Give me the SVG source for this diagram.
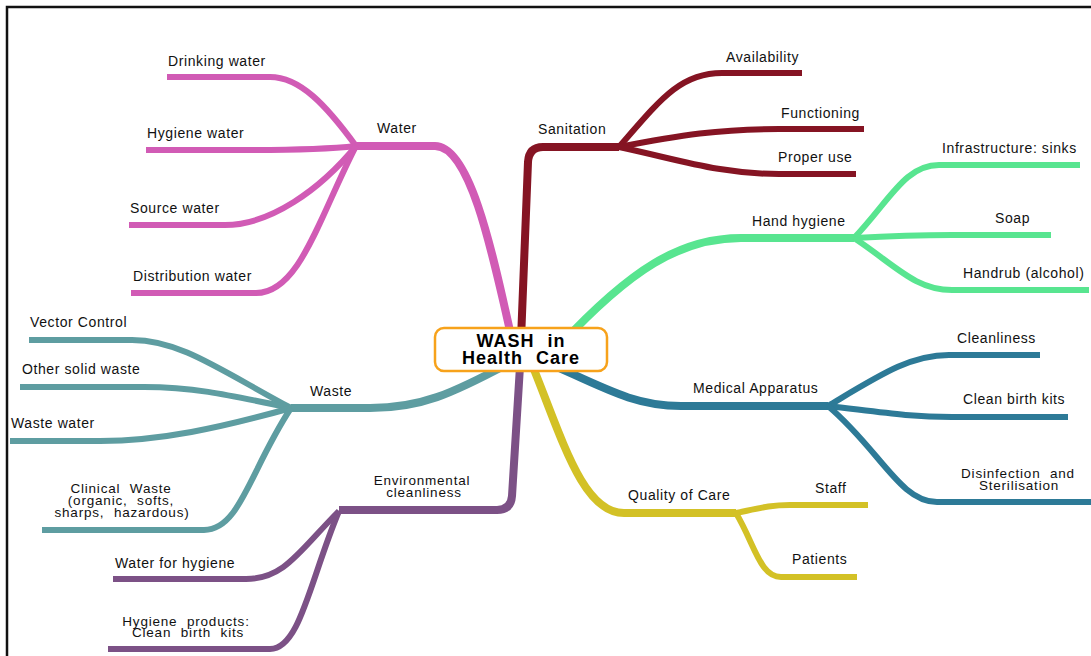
<svg xmlns="http://www.w3.org/2000/svg" width="1091" height="656" viewBox="0 0 1091 656">
<style>
.b{fill:none;stroke-linecap:butt;stroke-linejoin:round}
.m{stroke-width:8}
.c{stroke-width:6}
.water{stroke:#D15BB5}
.san{stroke:#851423}
.hand{stroke:#58E590}
.med{stroke:#2D7A97}
.qual{stroke:#D3C126}
.waste{stroke:#5E9DA1}
.env{stroke:#7C5186}
text{font-family:"Liberation Sans",Arial,Helvetica,sans-serif;font-size:14px;fill:#111;letter-spacing:0.6px}
.ml{word-spacing:5px;font-size:13.5px;letter-spacing:0.8px}
.center{font-weight:bold;font-size:18px;letter-spacing:1px;word-spacing:7px;fill:#000}
</style>
<rect x="0" y="0" width="1091" height="656" fill="#fff"/>
<path d="M7,656 L7,7 L1091,7" fill="none" stroke="#111" stroke-width="2.5"/>
<g id="connectors">
<path class="b m water" d="M512,340 C492,250 470,146 435,146 L356,146"/>
<path class="b c water" d="M356,146 C326,105 300,77 270,77 L167,77"/>
<path class="b c water" d="M356,146 C320,150 280,150 249,150 L146,150"/>
<path class="b c water" d="M356,146 C320,190 270,225 225,225 L129,225"/>
<path class="b c water" d="M356,146 C320,215 300,293 256,293 L131,293"/>
<path class="b m san" d="M521,340 L528,162 Q529,147 543,147 L619,147"/>
<path class="b c san" d="M619,147 C660,100 680,73 722,73 L802,73"/>
<path class="b c san" d="M619,147 C680,135 720,129 779,129 L864,129"/>
<path class="b c san" d="M619,147 C680,160 720,174 779,174 L856,174"/>
<path class="b m hand" d="M560,345 C630,270 680,238 741,238 L854,238"/>
<path class="b c hand" d="M854,238 C890,200 905,165 939,165 L1080,165"/>
<path class="b c hand" d="M854,238 C890,236 920,235 952,235 L1051,235"/>
<path class="b c hand" d="M854,238 C895,265 915,290 952,290 L1089,290"/>
<path class="b m med" d="M530,355 C600,385 630,406 681,406 L828,406"/>
<path class="b c med" d="M828,406 C880,375 910,355 949,355 L1040,355"/>
<path class="b c med" d="M828,406 C880,412 910,417 952,417 L1068,417"/>
<path class="b c med" d="M828,406 C880,450 900,502 937,502 L1091,502"/>
<path class="b m qual" d="M526,350 C560,430 580,513 624,513 L736,513"/>
<path class="b c qual" d="M736,513 C760,508 770,505 790,505 L868,505"/>
<path class="b c qual" d="M736,513 C755,545 760,577 781,577 L857,577"/>
<path class="b m waste" d="M515,360 C450,395 420,408 370,408 L291,408"/>
<path class="b c waste" d="M291,408 C220,370 180,340 132,340 L29,340"/>
<path class="b c waste" d="M291,408 C220,393 190,387 144,387 L20,387"/>
<path class="b c waste" d="M291,408 C220,428 160,441 100,441 L10,441"/>
<path class="b c waste" d="M291,408 C250,470 240,530 204,530 L42,530"/>
<path class="b m env" d="M521,350 L512,496 Q511,510 497,510 L339,510"/>
<path class="b c env" d="M339,511 C300,550 285,579 246,579 L113,579"/>
<path class="b c env" d="M339,511 C310,580 300,649 270,649 L108,649"/>
</g>
<g id="center">
<rect x="435" y="328" width="172" height="43" rx="9" fill="#fff" stroke="#F7A21B" stroke-width="2.5"/>
<text class="center" text-anchor="middle"><tspan x="521" y="347">WASH in</tspan><tspan x="521" y="364">Health Care</tspan></text>
</g>
<g id="water"><text x="377" y="133">Water</text></g>
<g id="drinking-water"><text x="168" y="66">Drinking water</text></g>
<g id="hygiene-water"><text x="147" y="138">Hygiene water</text></g>
<g id="source-water"><text x="130" y="213">Source water</text></g>
<g id="distribution-water"><text x="133" y="281">Distribution water</text></g>
<g id="sanitation"><text x="538" y="134">Sanitation</text></g>
<g id="availability"><text x="726" y="62">Availability</text></g>
<g id="functioning"><text x="781" y="118">Functioning</text></g>
<g id="proper-use"><text x="778" y="162">Proper use</text></g>
<g id="hand-hygiene"><text x="752" y="226">Hand hygiene</text></g>
<g id="infrastructure"><text x="942" y="153">Infrastructure: sinks</text></g>
<g id="soap"><text x="995" y="223">Soap</text></g>
<g id="handrub"><text x="963" y="278">Handrub (alcohol)</text></g>
<g id="medical"><text x="693" y="393">Medical Apparatus</text></g>
<g id="cleanliness"><text x="957" y="343">Cleanliness</text></g>
<g id="clean-birth-kits"><text x="963" y="404">Clean birth kits</text></g>
<g id="disinfection"><text class="ml" text-anchor="middle"><tspan x="1018" y="478">Disinfection and</tspan><tspan x="1019" y="490">Sterilisation</tspan></text></g>
<g id="quality"><text x="628" y="500">Quality of Care</text></g>
<g id="staff"><text x="815" y="493">Staff</text></g>
<g id="patients"><text x="792" y="564">Patients</text></g>
<g id="waste"><text x="310" y="396">Waste</text></g>
<g id="vector-control"><text x="30" y="327">Vector Control</text></g>
<g id="other-solid-waste"><text x="22" y="374">Other solid waste</text></g>
<g id="waste-water"><text x="11" y="428">Waste water</text></g>
<g id="clinical-waste"><text class="ml" text-anchor="middle"><tspan x="121" y="493">Clinical Waste</tspan><tspan x="121" y="505">(organic, softs,</tspan><tspan x="122" y="517">sharps, hazardous)</tspan></text></g>
<g id="environmental"><text class="ml" text-anchor="middle"><tspan x="422" y="485">Environmental</tspan><tspan x="424" y="497">cleanliness</tspan></text></g>
<g id="water-for-hygiene"><text x="115" y="568">Water for hygiene</text></g>
<g id="hygiene-products"><text class="ml" text-anchor="middle"><tspan x="186" y="626">Hygiene products:</tspan><tspan x="188" y="637">Clean birth kits</tspan></text></g>
</svg>
